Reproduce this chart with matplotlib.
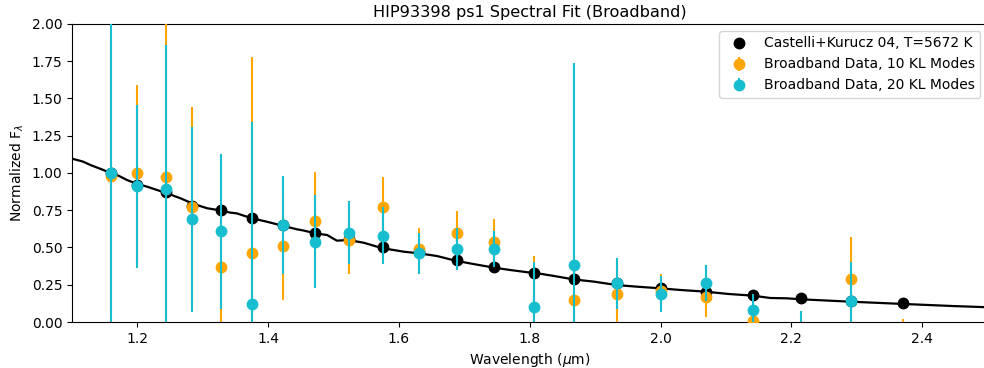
import matplotlib
matplotlib.use('Agg')
import matplotlib.pyplot as plt

# model spectrum
model_wl = [1.097, 1.117, 1.128, 1.148, 1.160, 1.172, 1.184, 1.200, 1.215, 1.230,
            1.245, 1.266, 1.286, 1.307, 1.330, 1.342, 1.352, 1.375, 1.398, 1.424,
            1.444, 1.454, 1.472, 1.490, 1.505, 1.523, 1.546, 1.567, 1.577, 1.592,
            1.607, 1.630, 1.658, 1.686, 1.714, 1.745, 1.770, 1.798, 1.806, 1.837,
            1.867, 1.898, 1.933, 1.964, 2.000, 2.030, 2.068, 2.104, 2.141, 2.168,
            2.193, 2.216, 2.259, 2.292, 2.372, 2.448, 2.500]
model_flux = [1.100, 1.076, 1.054, 1.020, 0.998, 0.980, 0.953, 0.926, 0.908, 0.886,
              0.864, 0.830, 0.792, 0.763, 0.747, 0.734, 0.729, 0.696, 0.673, 0.644,
              0.622, 0.614, 0.595, 0.584, 0.546, 0.550, 0.532, 0.505, 0.494, 0.483,
              0.472, 0.461, 0.443, 0.412, 0.389, 0.365, 0.349, 0.333, 0.331, 0.309,
              0.286, 0.271, 0.248, 0.237, 0.226, 0.215, 0.204, 0.188, 0.177, 0.161,
              0.159, 0.152, 0.143, 0.136, 0.121, 0.107, 0.099]

# broadband wavelengths
band_wl = [1.160, 1.200, 1.243, 1.284, 1.328, 1.376, 1.423, 1.472, 1.523, 1.575,
           1.630, 1.688, 1.746, 1.806, 1.867, 1.933, 2.000, 2.069, 2.141, 2.215,
           2.292, 2.371]

# model binned to bands
model_band = [1.00, 0.92, 0.87, 0.78, 0.75, 0.70, 0.65, 0.60, 0.56, 0.505,
              0.47, 0.415, 0.37, 0.33, 0.29, 0.26, 0.23, 0.20, 0.18, 0.16,
              0.14, 0.125]

# 10 KL modes
kl10_flux = [0.98, 1.00, 0.97, 0.77, 0.37, 0.46, 0.51, 0.68, 0.55, 0.77,
             0.49, 0.60, 0.54, -0.05, 0.15, 0.19, 0.21, 0.17, 0.01, -0.30,
             0.29, -0.20]
kl10_err = [0.90, 0.59, 1.10, 0.67, 0.45, 1.32, 0.36, 0.33, 0.23, 0.205,
            0.14, 0.145, 0.15, 0.49, 0.30, 0.22, 0.11, 0.135, 0.10, 0.20,
            0.28, 0.22]

# 20 KL modes
kl20_flux = [1.00, 0.91, 0.89, 0.69, 0.61, 0.12, 0.65, 0.54, 0.60, 0.58,
             0.46, 0.49, 0.49, 0.10, 0.38, 0.26, 0.19, 0.26, 0.08, -0.10,
             0.14, -0.30]
kl20_err = [1.20, 0.545, 0.97, 0.62, 0.52, 1.22, 0.33, 0.31, 0.21, 0.19,
            0.14, 0.14, 0.12, 0.305, 1.356, 0.17, 0.12, 0.12, 0.11, 0.176,
            0.265, 0.20]

plt.rcParams['font.size'] = 10

fig = plt.figure(figsize=(9.84, 3.68), dpi=100)
ax = fig.add_axes([0.0732, 0.125, 0.9303, 0.8098])

ax.plot(model_wl, model_flux, color='k', lw=1.6, zorder=1)
ax.plot(band_wl, model_band, 'o', color='k', ms=7.5, zorder=2,
        label='Castelli+Kurucz 04, T=5672 K')
ax.errorbar(band_wl, kl10_flux, yerr=kl10_err, fmt='o', color='orange',
            ms=7.5, elinewidth=1.5, zorder=3, label='Broadband Data, 10 KL Modes')
ax.errorbar(band_wl, kl20_flux, yerr=kl20_err, fmt='o', color='#17becf',
            ms=7.5, elinewidth=1.5, zorder=4, label='Broadband Data, 20 KL Modes')

ax.set_xlim(1.1, 2.5)
ax.set_ylim(0, 2.0)
ax.set_xticks([1.2, 1.4, 1.6, 1.8, 2.0, 2.2, 2.4])
ax.set_yticks([0.0, 0.25, 0.5, 0.75, 1.0, 1.25, 1.5, 1.75, 2.0])
ax.set_yticklabels(['0.00', '0.25', '0.50', '0.75', '1.00', '1.25', '1.50', '1.75', '2.00'])

ax.set_title('HIP93398 ps1 Spectral Fit (Broadband)', fontsize=11.6, pad=5)
ax.set_xlabel(r'Wavelength ($\mu$m)')
ax.set_ylabel(r'Normalized F$_\lambda$')
ax.legend(loc='upper right', fontsize=10)

plt.savefig('out.png', dpi=100)
